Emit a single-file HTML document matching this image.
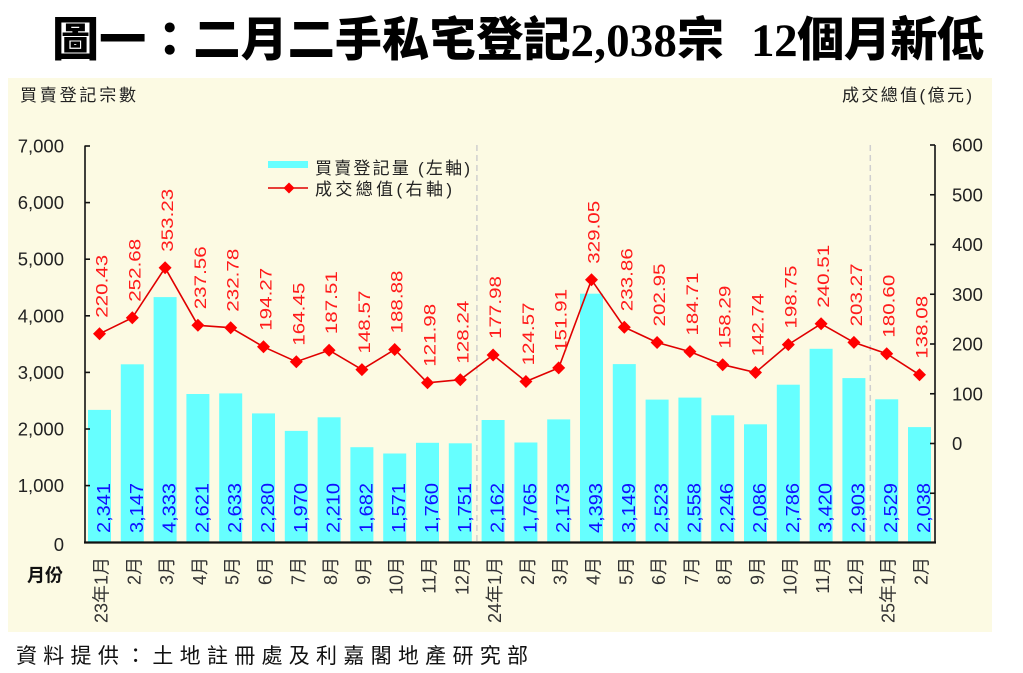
<!DOCTYPE html>
<html><head><meta charset="utf-8">
<style>
html,body{margin:0;padding:0;background:#fff;}
svg{display:block;}
</style></head>
<body>
<svg width="1023" height="673" viewBox="0 0 1023 673" xmlns="http://www.w3.org/2000/svg">
<rect x="0" y="0" width="1023" height="673" fill="#ffffff"/>
<!-- title -->
<text x="52" y="56" font-family="'Liberation Serif','Noto Sans CJK TC',serif" font-weight="900" font-size="47" fill="#000" textLength="672" lengthAdjust="spacing">圖一：二月二手私宅登記2,038宗</text>
<text x="751" y="56" font-family="'Liberation Serif','Noto Sans CJK TC',serif" font-weight="900" font-size="47" fill="#000" textLength="233" lengthAdjust="spacing">12個月新低</text>

<!-- chart background -->
<rect x="8" y="78" width="984" height="554" fill="#fcfae3"/>

<!-- axis titles -->
<text x="20" y="101" font-family="'Liberation Sans','Noto Sans CJK TC',sans-serif" font-size="17" fill="#222" textLength="116" lengthAdjust="spacing">買賣登記宗數</text>
<text x="842" y="101" font-family="'Liberation Sans','Noto Sans CJK TC',sans-serif" font-size="17" fill="#222" textLength="130" lengthAdjust="spacing">成交總值(億元)</text>

<!-- dashed separators -->
<line x1="476.9" y1="145" x2="476.9" y2="542" stroke="#cfcfcf" stroke-width="1.5" stroke-dasharray="6,4"/>
<line x1="870.3" y1="145" x2="870.3" y2="542" stroke="#cfcfcf" stroke-width="1.5" stroke-dasharray="6,4"/>

<!-- bars -->
<g fill="#66ffff">
<rect x="88.0" y="409.9" width="23" height="132.6"/>
<rect x="120.8" y="364.3" width="23" height="178.2"/>
<rect x="153.6" y="297.1" width="23" height="245.4"/>
<rect x="186.4" y="394.0" width="23" height="148.5"/>
<rect x="219.2" y="393.4" width="23" height="149.1"/>
<rect x="252.0" y="413.4" width="23" height="129.1"/>
<rect x="284.8" y="430.9" width="23" height="111.6"/>
<rect x="317.6" y="417.3" width="23" height="125.2"/>
<rect x="350.4" y="447.2" width="23" height="95.3"/>
<rect x="383.2" y="453.5" width="23" height="89.0"/>
<rect x="416.0" y="442.8" width="23" height="99.7"/>
<rect x="448.8" y="443.3" width="23" height="99.2"/>
<rect x="481.6" y="420.0" width="23" height="122.5"/>
<rect x="514.4" y="442.5" width="23" height="100.0"/>
<rect x="547.2" y="419.4" width="23" height="123.1"/>
<rect x="580.0" y="293.7" width="23" height="248.8"/>
<rect x="612.8" y="364.1" width="23" height="178.4"/>
<rect x="645.6" y="399.6" width="23" height="142.9"/>
<rect x="678.4" y="397.6" width="23" height="144.9"/>
<rect x="711.2" y="415.3" width="23" height="127.2"/>
<rect x="744.0" y="424.3" width="23" height="118.2"/>
<rect x="776.8" y="384.7" width="23" height="157.8"/>
<rect x="809.6" y="348.8" width="23" height="193.7"/>
<rect x="842.4" y="378.1" width="23" height="164.4"/>
<rect x="875.2" y="399.3" width="23" height="143.2"/>
<rect x="908.0" y="427.1" width="23" height="115.4"/>
</g>

<!-- bar labels -->
<g font-family="'Liberation Sans',sans-serif" font-size="18" fill="#1010ff">
<text transform="translate(110,533) rotate(-90)" textLength="50" lengthAdjust="spacingAndGlyphs">2,341</text>
<text transform="translate(142.8,533) rotate(-90)" textLength="50" lengthAdjust="spacingAndGlyphs">3,147</text>
<text transform="translate(175.6,533) rotate(-90)" textLength="50" lengthAdjust="spacingAndGlyphs">4,333</text>
<text transform="translate(208.4,533) rotate(-90)" textLength="50" lengthAdjust="spacingAndGlyphs">2,621</text>
<text transform="translate(241.2,533) rotate(-90)" textLength="50" lengthAdjust="spacingAndGlyphs">2,633</text>
<text transform="translate(274,533) rotate(-90)" textLength="50" lengthAdjust="spacingAndGlyphs">2,280</text>
<text transform="translate(306.8,533) rotate(-90)" textLength="50" lengthAdjust="spacingAndGlyphs">1,970</text>
<text transform="translate(339.6,533) rotate(-90)" textLength="50" lengthAdjust="spacingAndGlyphs">2,210</text>
<text transform="translate(372.4,533) rotate(-90)" textLength="50" lengthAdjust="spacingAndGlyphs">1,682</text>
<text transform="translate(405.2,533) rotate(-90)" textLength="50" lengthAdjust="spacingAndGlyphs">1,571</text>
<text transform="translate(438,533) rotate(-90)" textLength="50" lengthAdjust="spacingAndGlyphs">1,760</text>
<text transform="translate(470.8,533) rotate(-90)" textLength="50" lengthAdjust="spacingAndGlyphs">1,751</text>
<text transform="translate(503.6,533) rotate(-90)" textLength="50" lengthAdjust="spacingAndGlyphs">2,162</text>
<text transform="translate(536.4,533) rotate(-90)" textLength="50" lengthAdjust="spacingAndGlyphs">1,765</text>
<text transform="translate(569.2,533) rotate(-90)" textLength="50" lengthAdjust="spacingAndGlyphs">2,173</text>
<text transform="translate(602,533) rotate(-90)" textLength="50" lengthAdjust="spacingAndGlyphs">4,393</text>
<text transform="translate(634.8,533) rotate(-90)" textLength="50" lengthAdjust="spacingAndGlyphs">3,149</text>
<text transform="translate(667.6,533) rotate(-90)" textLength="50" lengthAdjust="spacingAndGlyphs">2,523</text>
<text transform="translate(700.4,533) rotate(-90)" textLength="50" lengthAdjust="spacingAndGlyphs">2,558</text>
<text transform="translate(733.2,533) rotate(-90)" textLength="50" lengthAdjust="spacingAndGlyphs">2,246</text>
<text transform="translate(766,533) rotate(-90)" textLength="50" lengthAdjust="spacingAndGlyphs">2,086</text>
<text transform="translate(798.8,533) rotate(-90)" textLength="50" lengthAdjust="spacingAndGlyphs">2,786</text>
<text transform="translate(831.6,533) rotate(-90)" textLength="50" lengthAdjust="spacingAndGlyphs">3,420</text>
<text transform="translate(864.4,533) rotate(-90)" textLength="50" lengthAdjust="spacingAndGlyphs">2,903</text>
<text transform="translate(897.2,533) rotate(-90)" textLength="50" lengthAdjust="spacingAndGlyphs">2,529</text>
<text transform="translate(930,533) rotate(-90)" textLength="50" lengthAdjust="spacingAndGlyphs">2,038</text>
</g>

<!-- axes -->
<g stroke="#111" stroke-width="1.6" fill="none">
<line x1="85" y1="145.5" x2="85" y2="542.5"/>
<line x1="935" y1="145" x2="935" y2="542.5"/>
<line x1="84" y1="542.5" x2="936" y2="542.5" stroke-width="2.2"/>
<line x1="85" y1="146" x2="90" y2="146"/>
<line x1="85" y1="202.6" x2="90" y2="202.6"/>
<line x1="85" y1="259.2" x2="90" y2="259.2"/>
<line x1="85" y1="315.8" x2="90" y2="315.8"/>
<line x1="85" y1="372.4" x2="90" y2="372.4"/>
<line x1="85" y1="429.0" x2="90" y2="429.0"/>
<line x1="85" y1="485.6" x2="90" y2="485.6"/>
<line x1="930" y1="145" x2="935" y2="145"/>
<line x1="930" y1="194.75" x2="935" y2="194.75"/>
<line x1="930" y1="244.5" x2="935" y2="244.5"/>
<line x1="930" y1="294.25" x2="935" y2="294.25"/>
<line x1="930" y1="344" x2="935" y2="344"/>
<line x1="930" y1="393.75" x2="935" y2="393.75"/>
<line x1="930" y1="443.5" x2="935" y2="443.5"/>
<line x1="930" y1="493.25" x2="935" y2="493.25"/>
</g>

<!-- left axis labels -->
<g font-family="'Liberation Sans',sans-serif" font-size="18.5" fill="#222" text-anchor="end">
<text x="64" y="152.5">7,000</text>
<text x="64" y="209.1">6,000</text>
<text x="64" y="265.7">5,000</text>
<text x="64" y="322.3">4,000</text>
<text x="64" y="378.9">3,000</text>
<text x="64" y="435.5">2,000</text>
<text x="64" y="492.1">1,000</text>
<text x="64" y="551">0</text>
</g>
<!-- right axis labels -->
<g font-family="'Liberation Sans',sans-serif" font-size="18.5" fill="#222">
<text x="952" y="151.5">600</text>
<text x="952" y="201.3">500</text>
<text x="952" y="251">400</text>
<text x="952" y="300.8">300</text>
<text x="952" y="350.5">200</text>
<text x="952" y="400.3">100</text>
<text x="952" y="450">0</text>
</g>

<!-- line series -->
<polyline fill="none" stroke="#e00000" stroke-width="1.6" points="99.5,333.8 132.3,317.8 165.1,267.8 197.9,325.3 230.7,327.7 263.5,346.8 296.3,361.7 329.1,350.2 361.9,369.6 394.7,349.5 427.5,382.8 460.3,379.7 493.1,355.0 525.9,381.5 558.7,367.9 591.5,279.8 624.3,327.2 657.1,342.5 689.9,351.6 722.7,364.7 755.5,372.5 788.3,344.6 821.1,323.8 853.9,342.4 886.7,353.7 919.5,374.8"/>
<g fill="#ff0000">
<polygon points="99.5,327.3 106,333.8 99.5,340.3 93,333.8"/>
<polygon points="132.3,311.3 138.8,317.8 132.3,324.3 125.8,317.8"/>
<polygon points="165.1,261.3 171.6,267.8 165.1,274.3 158.6,267.8"/>
<polygon points="197.9,318.8 204.4,325.3 197.9,331.8 191.4,325.3"/>
<polygon points="230.7,321.2 237.2,327.7 230.7,334.2 224.2,327.7"/>
<polygon points="263.5,340.3 270,346.8 263.5,353.3 257,346.8"/>
<polygon points="296.3,355.2 302.8,361.7 296.3,368.2 289.8,361.7"/>
<polygon points="329.1,343.7 335.6,350.2 329.1,356.7 322.6,350.2"/>
<polygon points="361.9,363.1 368.4,369.6 361.9,376.1 355.4,369.6"/>
<polygon points="394.7,343 401.2,349.5 394.7,356 388.2,349.5"/>
<polygon points="427.5,376.3 434,382.8 427.5,389.3 421,382.8"/>
<polygon points="460.3,373.2 466.8,379.7 460.3,386.2 453.8,379.7"/>
<polygon points="493.1,348.5 499.6,355 493.1,361.5 486.6,355"/>
<polygon points="525.9,375 532.4,381.5 525.9,388 519.4,381.5"/>
<polygon points="558.7,361.4 565.2,367.9 558.7,374.4 552.2,367.9"/>
<polygon points="591.5,273.3 598,279.8 591.5,286.3 585,279.8"/>
<polygon points="624.3,320.7 630.8,327.2 624.3,333.7 617.8,327.2"/>
<polygon points="657.1,336 663.6,342.5 657.1,349 650.6,342.5"/>
<polygon points="689.9,345.1 696.4,351.6 689.9,358.1 683.4,351.6"/>
<polygon points="722.7,358.2 729.2,364.7 722.7,371.2 716.2,364.7"/>
<polygon points="755.5,366 762,372.5 755.5,379 749,372.5"/>
<polygon points="788.3,338.1 794.8,344.6 788.3,351.1 781.8,344.6"/>
<polygon points="821.1,317.3 827.6,323.8 821.1,330.3 814.6,323.8"/>
<polygon points="853.9,335.9 860.4,342.4 853.9,348.9 847.4,342.4"/>
<polygon points="886.7,347.2 893.2,353.7 886.7,360.2 880.2,353.7"/>
<polygon points="919.5,368.3 926,374.8 919.5,381.3 913,374.8"/>
</g>

<!-- line labels -->
<g font-family="'Liberation Sans',sans-serif" font-size="17" fill="#ff1a1a">
<text transform="translate(107.5,317.8) rotate(-90)" textLength="63" lengthAdjust="spacingAndGlyphs">220.43</text>
<text transform="translate(140.3,301.8) rotate(-90)" textLength="63" lengthAdjust="spacingAndGlyphs">252.68</text>
<text transform="translate(173.1,251.8) rotate(-90)" textLength="63" lengthAdjust="spacingAndGlyphs">353.23</text>
<text transform="translate(205.9,309.3) rotate(-90)" textLength="63" lengthAdjust="spacingAndGlyphs">237.56</text>
<text transform="translate(238.7,311.7) rotate(-90)" textLength="63" lengthAdjust="spacingAndGlyphs">232.78</text>
<text transform="translate(271.5,330.8) rotate(-90)" textLength="63" lengthAdjust="spacingAndGlyphs">194.27</text>
<text transform="translate(304.3,345.7) rotate(-90)" textLength="63" lengthAdjust="spacingAndGlyphs">164.45</text>
<text transform="translate(337.1,334.2) rotate(-90)" textLength="63" lengthAdjust="spacingAndGlyphs">187.51</text>
<text transform="translate(369.9,353.6) rotate(-90)" textLength="63" lengthAdjust="spacingAndGlyphs">148.57</text>
<text transform="translate(402.7,333.5) rotate(-90)" textLength="63" lengthAdjust="spacingAndGlyphs">188.88</text>
<text transform="translate(435.5,366.8) rotate(-90)" textLength="63" lengthAdjust="spacingAndGlyphs">121.98</text>
<text transform="translate(468.3,363.7) rotate(-90)" textLength="63" lengthAdjust="spacingAndGlyphs">128.24</text>
<text transform="translate(501.1,339) rotate(-90)" textLength="63" lengthAdjust="spacingAndGlyphs">177.98</text>
<text transform="translate(533.9,365.5) rotate(-90)" textLength="63" lengthAdjust="spacingAndGlyphs">124.57</text>
<text transform="translate(566.7,351.9) rotate(-90)" textLength="63" lengthAdjust="spacingAndGlyphs">151.91</text>
<text transform="translate(599.5,263.8) rotate(-90)" textLength="63" lengthAdjust="spacingAndGlyphs">329.05</text>
<text transform="translate(632.3,311.2) rotate(-90)" textLength="63" lengthAdjust="spacingAndGlyphs">233.86</text>
<text transform="translate(665.1,326.5) rotate(-90)" textLength="63" lengthAdjust="spacingAndGlyphs">202.95</text>
<text transform="translate(697.9,335.6) rotate(-90)" textLength="63" lengthAdjust="spacingAndGlyphs">184.71</text>
<text transform="translate(730.7,348.7) rotate(-90)" textLength="63" lengthAdjust="spacingAndGlyphs">158.29</text>
<text transform="translate(763.5,356.5) rotate(-90)" textLength="63" lengthAdjust="spacingAndGlyphs">142.74</text>
<text transform="translate(796.3,328.6) rotate(-90)" textLength="63" lengthAdjust="spacingAndGlyphs">198.75</text>
<text transform="translate(829.1,307.8) rotate(-90)" textLength="63" lengthAdjust="spacingAndGlyphs">240.51</text>
<text transform="translate(861.9,326.4) rotate(-90)" textLength="63" lengthAdjust="spacingAndGlyphs">203.27</text>
<text transform="translate(894.7,337.7) rotate(-90)" textLength="63" lengthAdjust="spacingAndGlyphs">180.60</text>
<text transform="translate(927.5,358.8) rotate(-90)" textLength="63" lengthAdjust="spacingAndGlyphs">138.08</text>
</g>

<!-- x axis labels -->
<g font-family="'Liberation Sans','Noto Sans CJK TC',sans-serif" font-size="18" fill="#333" text-anchor="end">
<text transform="translate(107.5,557) rotate(-90)">23年1月</text>
<text transform="translate(140.3,557) rotate(-90)">2月</text>
<text transform="translate(173.1,557) rotate(-90)">3月</text>
<text transform="translate(205.9,557) rotate(-90)">4月</text>
<text transform="translate(238.7,557) rotate(-90)">5月</text>
<text transform="translate(271.5,557) rotate(-90)">6月</text>
<text transform="translate(304.3,557) rotate(-90)">7月</text>
<text transform="translate(337.1,557) rotate(-90)">8月</text>
<text transform="translate(369.9,557) rotate(-90)">9月</text>
<text transform="translate(402.7,557) rotate(-90)">10月</text>
<text transform="translate(435.5,557) rotate(-90)">11月</text>
<text transform="translate(468.3,557) rotate(-90)">12月</text>
<text transform="translate(501.1,557) rotate(-90)">24年1月</text>
<text transform="translate(533.9,557) rotate(-90)">2月</text>
<text transform="translate(566.7,557) rotate(-90)">3月</text>
<text transform="translate(599.5,557) rotate(-90)">4月</text>
<text transform="translate(632.3,557) rotate(-90)">5月</text>
<text transform="translate(665.1,557) rotate(-90)">6月</text>
<text transform="translate(697.9,557) rotate(-90)">7月</text>
<text transform="translate(730.7,557) rotate(-90)">8月</text>
<text transform="translate(763.5,557) rotate(-90)">9月</text>
<text transform="translate(796.3,557) rotate(-90)">10月</text>
<text transform="translate(829.1,557) rotate(-90)">11月</text>
<text transform="translate(861.9,557) rotate(-90)">12月</text>
<text transform="translate(894.7,557) rotate(-90)">25年1月</text>
<text transform="translate(927.5,557) rotate(-90)">2月</text>
</g>

<text x="27" y="581.5" font-family="'Liberation Sans','Noto Sans CJK TC',sans-serif" font-size="18" font-weight="bold" fill="#111">月份</text>

<!-- legend -->
<rect x="268" y="161" width="40" height="7" fill="#66ffff"/>
<text x="315" y="174" font-family="'Liberation Sans','Noto Sans CJK TC',sans-serif" font-size="17" fill="#222" textLength="155" lengthAdjust="spacing">買賣登記量 (左軸)</text>
<line x1="268" y1="188" x2="308" y2="188" stroke="#e00000" stroke-width="1.6"/>
<polygon points="289,182.5 294.5,188 289,193.5 283.5,188" fill="#ff0000"/>
<text x="315" y="195" font-family="'Liberation Sans','Noto Sans CJK TC',sans-serif" font-size="17" fill="#222" textLength="137" lengthAdjust="spacing">成交總值(右軸)</text>

<!-- source -->
<text x="16" y="663" font-family="'Liberation Sans','Noto Sans CJK TC',sans-serif" font-size="21" fill="#111" textLength="512" lengthAdjust="spacing">資料提供：土地註冊處及利嘉閣地產研究部</text>
</svg>
</body></html>
